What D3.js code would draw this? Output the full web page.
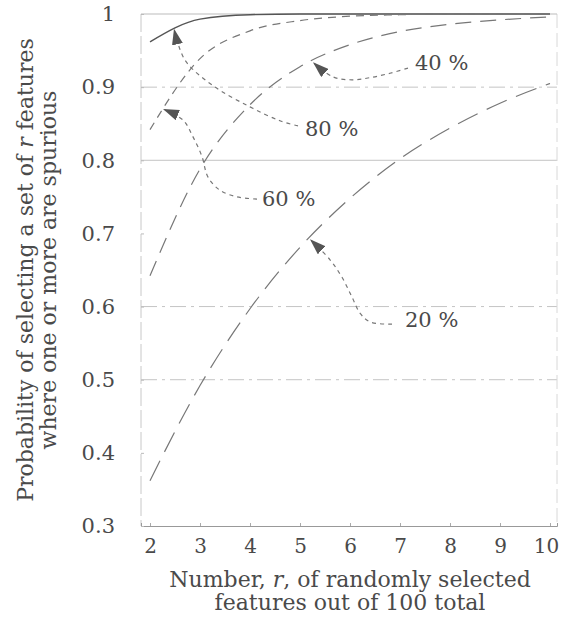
<!DOCTYPE html>
<html>
<head>
<meta charset="utf-8">
<script src="https://cdn.jsdelivr.net/npm/d3@7"></script>
<style>
  body { margin: 0; background: #fff; }
  text { font-family: "DejaVu Serif", "Liberation Serif", serif; fill: #4a4a4a; }
</style>
</head>
<body>
<svg width="562" height="621"></svg>
<script>
// number of features picked, r
const rValues = [2, 3, 4, 5, 6, 7, 8, 9, 10];

// probability that one or more picked features are spurious
const pct20 = [0.362, 0.492, 0.597, 0.681, 0.748, 0.802, 0.844, 0.878, 0.905];
const pct40 = [0.642, 0.788, 0.876, 0.928, 0.958, 0.976, 0.986, 0.992, 0.996];
const pct60 = [0.842, 0.939, 0.977, 0.991, 0.997, 0.999, 1.0, 1.0, 1.0];
const pct80 = [0.962, 0.993, 0.999, 1.0, 1.0, 1.0, 1.0, 1.0, 1.0];

const xTicks = [2, 3, 4, 5, 6, 7, 8, 9, 10];
const yTicks = [1, 0.9, 0.8, 0.7, 0.6, 0.5, 0.4, 0.3];
const gridValues = [0.9, 0.8, 0.6, 0.5];

// call-out labels and their arrows, in data units (label first, arrow tip last)
const labels = ["80 %", "60 %", "40 %", "20 %"];
const labelPos = [[5.10, 0.843], [4.24, 0.747], [7.30, 0.933], [7.10, 0.582]];
const arrowPaths = [
  [[4.96, 0.847], [4.60, 0.854], [4.00, 0.873], [3.26, 0.902], [2.70, 0.937], [2.48, 0.980]],
  [[4.14, 0.747], [3.74, 0.750], [3.40, 0.759], [3.16, 0.777], [3.04, 0.805], [2.86, 0.832], [2.66, 0.855], [2.26, 0.870]],
  [[7.16, 0.926], [6.80, 0.919], [6.40, 0.913], [6.04, 0.910], [5.66, 0.914], [5.26, 0.934]],
  [[6.84, 0.576], [6.40, 0.579], [6.20, 0.591], [6.04, 0.613], [5.84, 0.640], [5.60, 0.664], [5.20, 0.692]]
];

const svg = d3.select("svg");
const margin = { top: 14, right: 5, bottom: 95, left: 141 };
const width  = +svg.attr("width")  - margin.left - margin.right;
const height = +svg.attr("height") - margin.top  - margin.bottom;

const g = svg.append("g").attr("transform", `translate(${margin.left},${margin.top})`);

const x = d3.scaleLinear().domain([1.82, 10.14]).range([0, width]);
const y = d3.scaleLinear().domain([0.3, 1]).range([height, 0]);

// grid lines
g.selectAll(".grid")
  .data(gridValues)
  .join("line")
  .attr("x1", 0).attr("x2", width)
  .attr("y1", d => y(d)).attr("y2", d => y(d))
  .attr("stroke", "#c4c4c4")
  .attr("stroke-width", 1)
  .attr("stroke-dasharray", (d, i) => i === 1 ? null : "16,5,3,5");

// frame
g.append("line").attr("x1", 0).attr("x2", 0).attr("y1", 0).attr("y2", height)
  .attr("stroke", "#c8c8c8").attr("stroke-dasharray", "18,4");
g.append("line").attr("x1", width).attr("x2", width).attr("y1", 0).attr("y2", height)
  .attr("stroke", "#d8d8d8").attr("stroke-dasharray", "14,5");
g.append("line").attr("x1", 0).attr("x2", width).attr("y1", 0).attr("y2", 0)
  .attr("stroke", "#bbb");

// axes
const xAxis = g.append("g")
  .attr("transform", `translate(0,${height})`)
  .call(d3.axisBottom(x).tickValues(xTicks).tickSize(-3).tickPadding(13).tickFormat(d3.format("d")));
xAxis.select(".domain").attr("stroke", "#999");
xAxis.selectAll(".tick line").attr("stroke", "#aaa");
xAxis.selectAll("text").attr("font-size", 20).attr("fill", "#4a4a4a")
  .attr("dx", d => d === 10 ? -4 : 0);

const yAxis = g.append("g")
  .call(d3.axisLeft(y).tickValues(yTicks).tickSize(-3).tickPadding(26).tickFormat(d => d === 1 ? "1" : d3.format(".1f")(d)));
yAxis.select(".domain").remove();
yAxis.selectAll(".tick line").attr("stroke", "#bbb");
yAxis.selectAll("text").attr("font-size", 21).attr("fill", "#4a4a4a");

// curves
const series = [
  { values: pct80, dash: null,    color: "#555", w: 1.4 },
  { values: pct60, dash: "8,6",   color: "#777", w: 1.2 },
  { values: pct40, dash: "16,9",  color: "#777", w: 1.2 },
  { values: pct20, dash: "22,10", color: "#777", w: 1.2 }
];

const line = d3.line()
  .x(d => x(d[0]))
  .y(d => y(d[1]))
  .curve(d3.curveMonotoneX);

g.selectAll(".curve")
  .data(series)
  .join("path")
  .attr("d", s => line(rValues.map((r, i) => [r, s.values[i]])))
  .attr("fill", "none")
  .attr("stroke", s => s.color)
  .attr("stroke-width", s => s.w)
  .attr("stroke-dasharray", s => s.dash);

// arrow heads
svg.append("defs").append("marker")
  .attr("id", "head")
  .attr("markerUnits", "userSpaceOnUse")
  .attr("viewBox", "0 0 16 11")
  .attr("refX", 16).attr("refY", 5.5)
  .attr("markerWidth", 16).attr("markerHeight", 11)
  .attr("orient", "auto")
  .append("path")
  .attr("d", "M0,0L16,5.5L0,11Z")
  .attr("fill", "#555");

const arrowLine = d3.line()
  .x(d => x(d[0]))
  .y(d => y(d[1]))
  .curve(d3.curveCatmullRom);

g.selectAll(".arrow")
  .data(arrowPaths)
  .join("path")
  .attr("d", arrowLine)
  .attr("fill", "none")
  .attr("stroke", "#777")
  .attr("stroke-width", 1.2)
  .attr("stroke-dasharray", "4,4")
  .attr("marker-end", "url(#head)");

g.selectAll(".label")
  .data(labels)
  .join("text")
  .attr("x", (d, i) => x(labelPos[i][0]))
  .attr("y", (d, i) => y(labelPos[i][1]))
  .attr("dy", "0.35em")
  .attr("font-size", 21)
  .text(d => d);

// axis titles
const xTitle = svg.append("text")
  .attr("text-anchor", "middle")
  .attr("font-size", 22)
  .attr("transform", `translate(${margin.left + x(6)},${margin.top + height + 61})`);
xTitle.append("tspan").attr("x", 0).text("Number, ")
  .append("tspan").attr("font-style", "italic").text("r");
xTitle.select("tspan").append("tspan").text(", of randomly selected");
xTitle.append("tspan").attr("x", 0).attr("dy", 23).text("features out of 100 total");

const yTitle = svg.append("text")
  .attr("text-anchor", "middle")
  .attr("font-size", 22)
  .attr("transform", `translate(33,${margin.top + y(0.65)}) rotate(-90)`);
const yLine1 = yTitle.append("tspan").attr("x", 0).text("Probability of selecting a set of ");
yLine1.append("tspan").attr("font-style", "italic").text("r");
yLine1.append("tspan").text(" features");
yTitle.append("tspan").attr("x", 0).attr("dy", 23).text("where one or more are spurious");
</script>
</body>
</html>
